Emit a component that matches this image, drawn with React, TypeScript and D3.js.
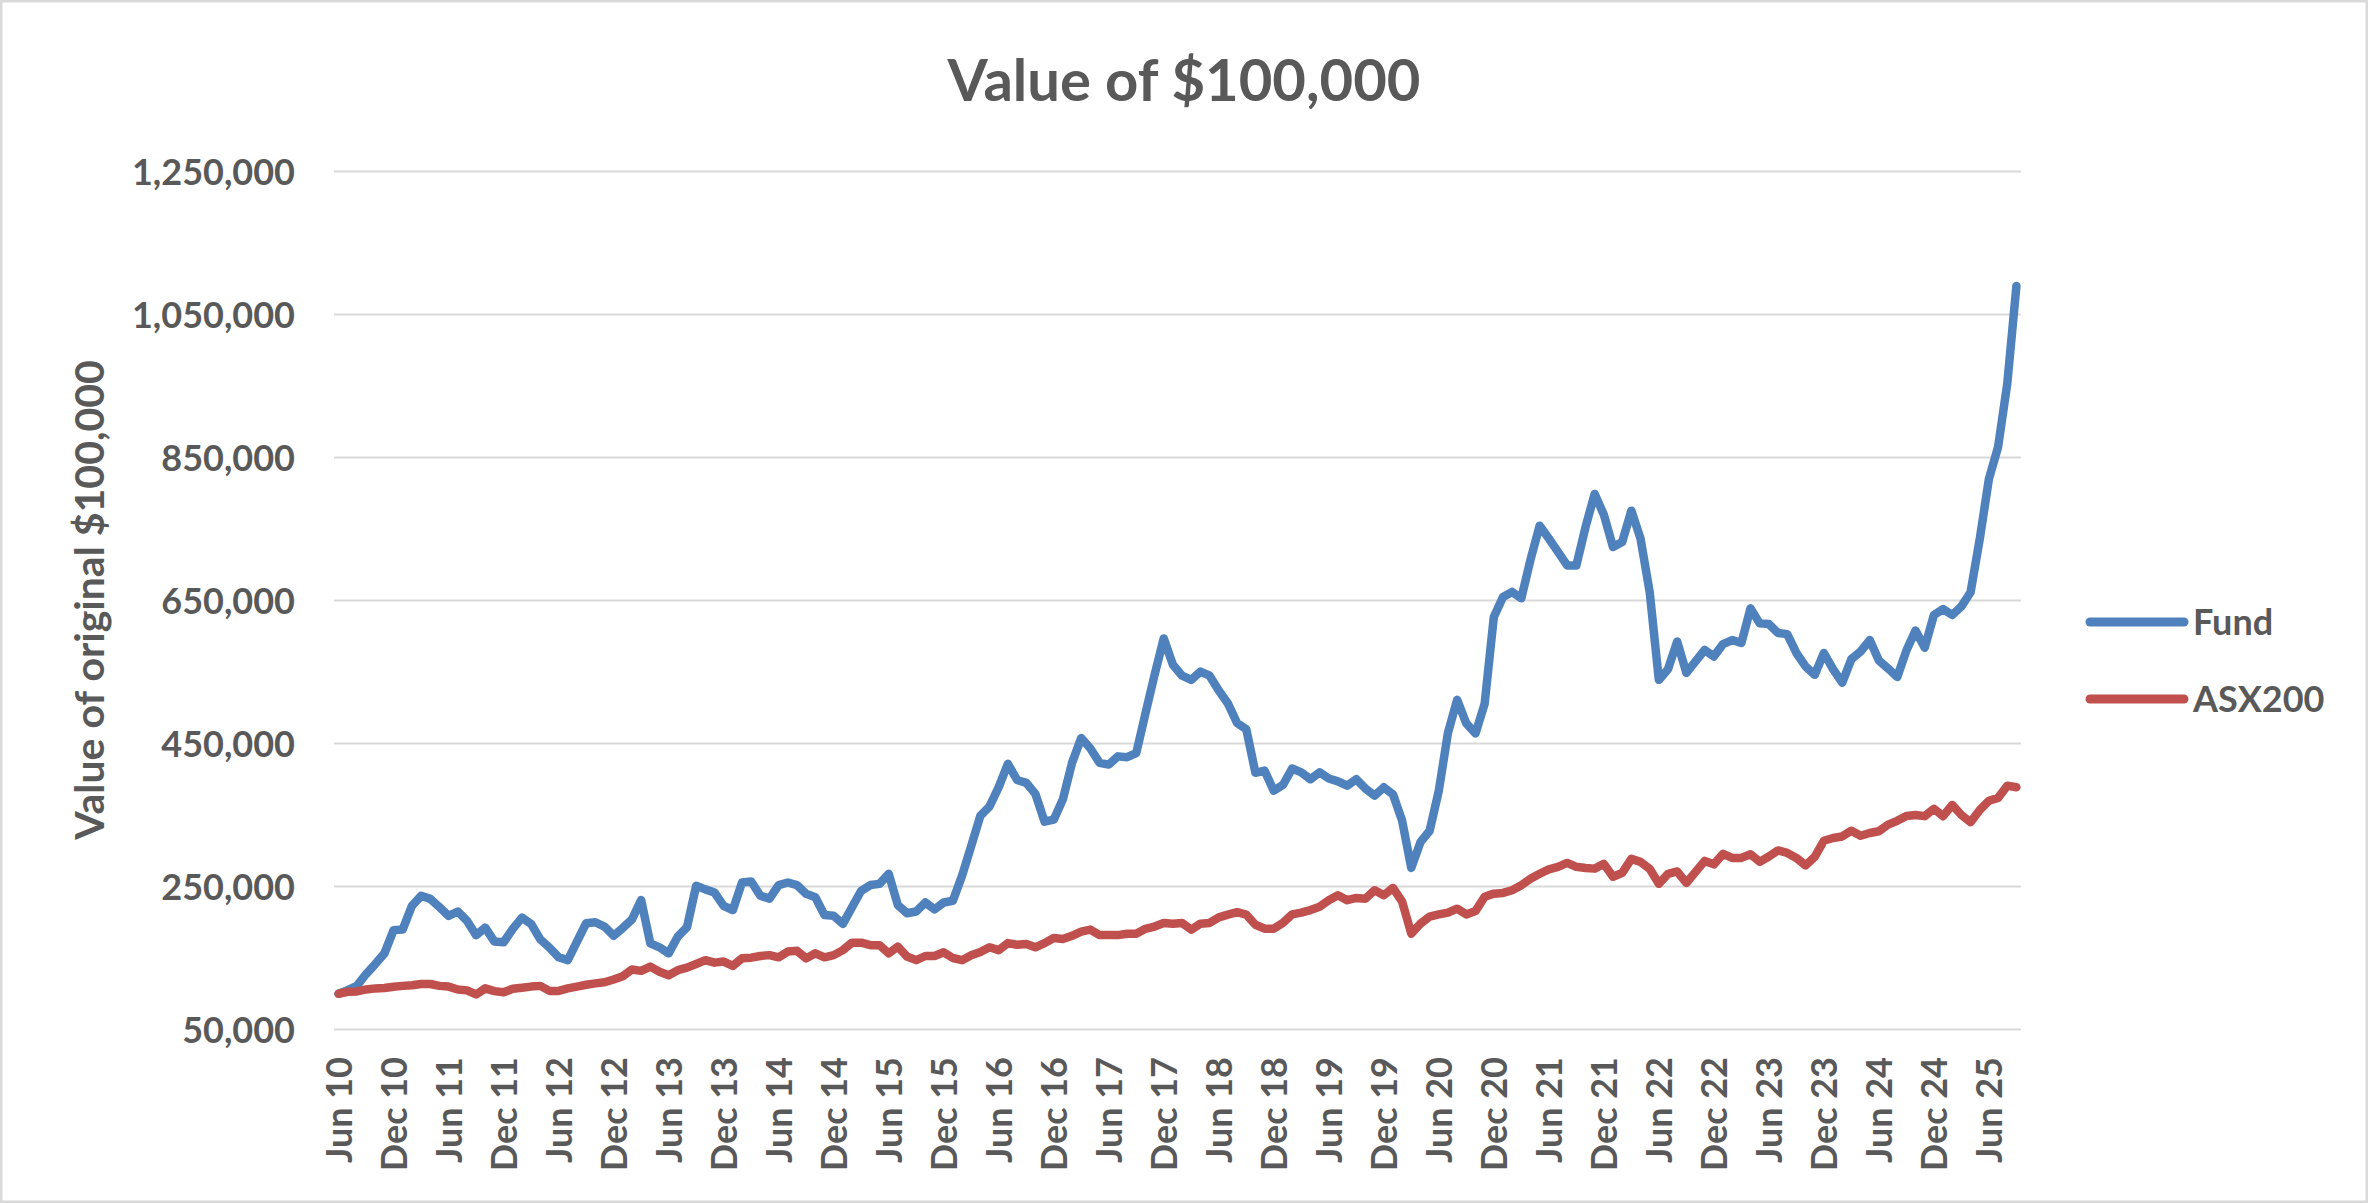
import React from "react";
import * as d3 from "d3";

// Monthly values, Jun 2010 .. Sep 2025, in thousands of dollars
const fund: number[] = [
  100, 105, 111, 127.6, 141.6, 156.5, 189, 190, 223, 237, 232.7, 221,
  209, 215, 202, 182, 192.5, 173, 172, 190.7, 206.5, 197.7, 176, 164.6,
  151, 147, 173, 198.6, 200, 194, 181, 192, 204, 231, 170.6, 165,
  156.5, 180, 193, 251, 246, 241.6, 223, 217, 255.6, 257, 237, 233,
  252, 255.6, 252, 239.7, 235, 210, 209, 197.7, 221, 244, 252, 253.7,
  267.8, 224, 212.6, 215, 227.6, 218, 227.6, 230, 265, 306.5, 349, 362,
  389, 421.6, 399, 395, 379.5, 340.7, 343.5, 372, 423, 457.6, 443, 423,
  420.5, 432, 430.8, 436.5, 491.8, 546, 597, 560, 544.8, 539, 550.5, 544.8,
  524, 506, 478.6, 470, 409, 412, 384, 392, 415, 409.7, 400, 409.7,
  401, 397, 391, 400, 387, 377, 388.8, 379, 342, 276, 312, 328,
  384, 465, 511, 478, 464, 505.7, 627, 655, 662, 653, 707, 754.7,
  736.7, 718, 699, 699, 752.6, 799, 770, 724.8, 731.8, 775.6, 736.7, 662,
  539, 554, 592.6, 548.8, 564.8, 580.8, 571.8, 589, 594.7, 590.5, 639, 618,
  617, 604.5, 603, 576.6, 557.9, 546, 576.6, 554, 535, 568, 578.7, 594.7,
  566, 555, 543, 580, 608, 584, 629.7, 638, 629.7, 641.7, 661.5, 736,
  820, 864.7, 953, 1090,
];

const asx200: number[] = [
  100, 102.8, 103.3, 106, 107.5, 108, 109.8, 111, 112, 113.6, 113.6, 111,
  110, 106, 104.7, 99, 107.5, 103.7, 102, 107, 108.4, 110, 111, 104,
  104, 107.5, 110, 112.6, 114.5, 116, 120, 124.5, 134, 132, 137.9, 130.8,
  126, 133, 136.5, 141.6, 147, 143.5, 145, 139, 149.5, 150.5, 152.8, 154,
  151, 159, 160, 149.5, 156.5, 151, 154, 161, 171.5, 171.5, 168, 168,
  156.5, 166, 152, 147, 152.8, 152.8, 158, 150, 147, 153.7, 158.3, 165,
  161, 170.8, 168.6, 169.7, 165, 170.8, 178, 176.5, 181, 186.8, 189.7, 182,
  182, 182, 184, 184, 190.8, 194, 199, 198, 199, 189.7, 198, 199,
  206.8, 210.7, 214, 210.7, 196.5, 191, 191, 199, 211, 213.5, 217, 221.8,
  230.8, 237.8, 230.8, 234, 233, 244.8, 237.8, 248, 228.8, 184, 198, 208,
  211, 213.5, 219, 211, 215.6, 235.7, 240, 241, 244.8, 251.8, 260.8, 267.8,
  274, 277.5, 283, 277.5, 276, 275, 281.7, 263.6, 269, 288.6, 284.5, 274.7,
  253.8, 267.7, 271, 255, 270.5, 285.8, 281, 295.6, 290, 290, 295, 284.5,
  292, 300.5, 297, 290, 279.6, 291.4, 314, 317.8, 320, 328, 321, 324.8,
  327.3, 336.5, 341.8, 348.6, 350, 348.4, 358.7, 348.4, 364, 350, 339.9, 357,
  369.9, 374, 391, 388.8,
];

const categories: Date[] = d3.timeMonth.range(new Date(2010, 5, 1), new Date(2025, 9, 1));

const tickLabels: string[] = [
  "Jun 10", "Dec 10", "Jun 11", "Dec 11", "Jun 12", "Dec 12", "Jun 13", "Dec 13",
  "Jun 14", "Dec 14", "Jun 15", "Dec 15", "Jun 16", "Dec 16", "Jun 17", "Dec 17",
  "Jun 18", "Dec 18", "Jun 19", "Dec 19", "Jun 20", "Dec 20", "Jun 21", "Dec 21",
  "Jun 22", "Dec 22", "Jun 23", "Dec 23", "Jun 24", "Dec 24", "Jun 25",
];

const yTicks: number[] = [50000, 250000, 450000, 650000, 850000, 1050000, 1250000];

const seriesNames = ["Fund", "ASX200"];
const seriesColors = ["#4F81BD", "#C0504D"];

const W = 2368;
const H = 1203;
const FONT = "Lato, 'Open Sans', sans-serif";
const TEXT = "#595959";

export default function App() {
  const plotLeft = 334;
  const plotRight = 2021;
  const plotTop = 171.5;
  const plotBottom = 1029.5;

  const idx = categories.map((_, i) => i);
  const x = d3.scaleBand<number>().domain(idx).range([plotLeft, plotRight]).padding(0);
  const cx = (i: number) => (x(i) as number) + x.bandwidth() / 2;
  const y = d3.scaleLinear().domain([50000, 1250000]).range([plotBottom, plotTop]);

  const line = d3
    .line<number>()
    .x((_, i) => cx(i))
    .y((v) => y(v * 1000));

  const fmt = d3.format(",");
  const series = [fund, asx200];

  return (
    <>
      <style>{`body{margin:0;}`}</style>
      <svg width={W} height={H} style={{ display: "block", background: "#fff" }}>
        <rect x={1.25} y={1.25} width={W - 2.5} height={H - 2.5} fill="#fff" stroke="#D9D9D9" strokeWidth={2.5} />
        <text x={1184} y={101} textAnchor="middle" fontFamily={FONT} fontWeight={700} fontSize={58} fill={TEXT}>
          Value of $100,000
        </text>

        {yTicks.map((t) => (
          <g key={t}>
            <line x1={plotLeft} x2={plotRight} y1={y(t)} y2={y(t)} stroke="#D9D9D9" strokeWidth={2} />
            <text x={295} y={y(t) + 13} textAnchor="end" fontFamily={FONT} fontWeight={700} fontSize={36} fill={TEXT}>
              {fmt(t)}
            </text>
          </g>
        ))}

        <text
          transform={`translate(104,600) rotate(-90)`}
          textAnchor="middle"
          fontFamily={FONT}
          fontWeight={700}
          fontSize={41}
          fill={TEXT}
        >
          Value of original $100,000
        </text>

        {tickLabels.map((lab, k) => {
          const i = k * 6;
          return (
            <text
              key={lab}
              transform={`translate(${cx(i) + 13},1057) rotate(-90)`}
              textAnchor="end"
              fontFamily={FONT}
              fontWeight={700}
              fontSize={36}
              fill={TEXT}
            >
              {lab}
            </text>
          );
        })}

        {series.map((s, k) => (
          <path
            key={seriesNames[k]}
            d={line(s) || ""}
            fill="none"
            stroke={seriesColors[k]}
            strokeWidth={8.5}
            strokeLinejoin="round"
            strokeLinecap="round"
          />
        ))}

        {seriesNames.map((name, k) => {
          const ly = k === 0 ? 622 : 699;
          return (
            <g key={name}>
              <line x1={2090} x2={2184} y1={ly} y2={ly} stroke={seriesColors[k]} strokeWidth={9} strokeLinecap="round" />
              <text x={2193} y={ly + 12.5} fontFamily={FONT} fontWeight={700} fontSize={36} fill={TEXT}>
                {name}
              </text>
            </g>
          );
        })}
      </svg>
    </>
  );
}
